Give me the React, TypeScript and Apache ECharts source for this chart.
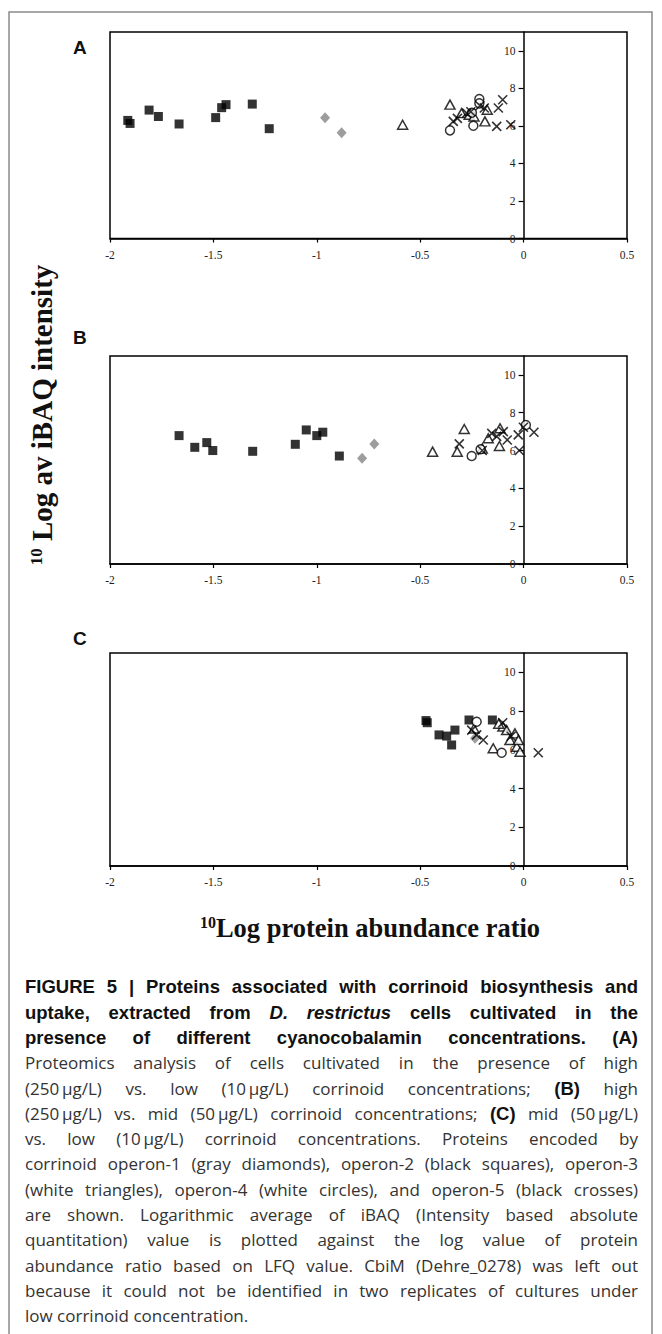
import React, { useEffect, useRef } from "react";
import * as echarts from "echarts";

// ---------- data (x = 10Log protein abundance ratio, y = 10Log av iBAQ intensity) ----------
const panelNames = ["A", "B", "C"];
const operonNames = ["operon-1", "operon-2", "operon-3", "operon-4", "operon-5"];

const xMin = -2;
const xMax = 0.5;
const xInterval = 0.5;
const yMin = 0;
const yMax = 11;
const yInterval = 2;

// Panel A: high vs low
const aOperon1 = [[-0.96, 6.43], [-0.88, 5.63]];
const aOperon2 = [
  [-1.914, 6.29], [-1.903, 6.13], [-1.811, 6.84], [-1.766, 6.5], [-1.666, 6.1],
  [-1.489, 6.44], [-1.46, 6.97], [-1.439, 7.13], [-1.312, 7.16], [-1.23, 5.85],
];
const aOperon3 = [
  [-0.585, 6.06], [-0.356, 7.13], [-0.3, 6.68], [-0.263, 6.59], [-0.24, 6.5],
  [-0.187, 6.24], [-0.176, 6.86],
];
const aOperon4 = [[-0.356, 5.76], [-0.243, 6.01], [-0.214, 7.43], [-0.214, 7.2], [-0.25, 6.7]];
const aOperon5 = [
  [-0.34, 6.24], [-0.32, 6.4], [-0.275, 6.68], [-0.255, 6.75], [-0.211, 7.07],
  [-0.19, 6.95], [-0.13, 5.97], [-0.122, 6.95], [-0.101, 7.39], [-0.062, 6.06],
];

// Panel B: high vs mid
const bOperon1 = [[-0.781, 5.59], [-0.722, 6.35]];
const bOperon2 = [
  [-1.666, 6.79], [-1.59, 6.17], [-1.532, 6.42], [-1.503, 6.0], [-1.31, 5.96],
  [-1.104, 6.33], [-1.051, 7.09], [-1.0, 6.79], [-0.971, 6.97], [-0.891, 5.71],
];
const bOperon3 = [
  [-0.44, 5.94], [-0.287, 7.14], [-0.321, 5.94], [-0.171, 6.65], [-0.114, 7.18],
  [-0.117, 6.24], [-0.2, 6.1],
];
const bOperon4 = [[-0.251, 5.71], [-0.208, 6.07], [0.011, 7.35]];
const bOperon5 = [
  [-0.311, 6.35], [-0.2, 6.0], [-0.154, 6.91], [-0.098, 7.0], [-0.079, 6.56],
  [-0.021, 6.0], [-0.026, 6.83], [-0.001, 7.23], [0.05, 6.97], [-0.13, 6.75],
];

// Panel C: mid vs low
const cOperon1 = [[-0.235, 6.6]];
const cOperon2 = [
  [-0.472, 7.51], [-0.466, 7.4], [-0.409, 6.77], [-0.372, 6.71], [-0.332, 7.02],
  [-0.348, 6.25], [-0.264, 7.54], [-0.151, 7.54],
];
const cOperon3 = [
  [-0.147, 6.08], [-0.1, 7.2], [-0.082, 7.02], [-0.066, 6.51], [-0.042, 6.85],
  [-0.033, 6.16], [-0.017, 5.9], [-0.025, 6.51], [-0.24, 7.1], [-0.12, 7.35],
];
const cOperon4 = [[-0.227, 7.45], [-0.106, 5.85]];
const cOperon5 = [
  [-0.251, 7.02], [-0.227, 6.77], [-0.195, 6.51], [-0.101, 7.4], [0.071, 5.85],
  [-0.06, 6.7],
];

const panelData = [
  [aOperon1, aOperon2, aOperon3, aOperon4, aOperon5],
  [bOperon1, bOperon2, bOperon3, bOperon4, bOperon5],
  [cOperon1, cOperon2, cOperon3, cOperon4, cOperon5],
];

const yTitle = "Log av iBAQ intensity";
const xTitle = "Log protein abundance ratio";
const superscript = "10";

type Seg = { t: string; b?: boolean; i?: boolean };
const captionLines: Seg[][] = [
  [{ t: "FIGURE 5 | Proteins associated with corrinoid biosynthesis and", b: true }],
  [
    { t: "uptake, extracted from ", b: true },
    { t: "D. restrictus", b: true, i: true },
    { t: " cells cultivated in the", b: true },
  ],
  [{ t: "presence of different cyanocobalamin concentrations. (A)", b: true }],
  [{ t: "Proteomics analysis of cells cultivated in the presence of high" }],
  [
    { t: "(250\u2009\u03bcg/L) vs. low (10\u2009\u03bcg/L) corrinoid concentrations; " },
    { t: "(B)", b: true },
    { t: " high" },
  ],
  [
    { t: "(250\u2009\u03bcg/L) vs. mid (50\u2009\u03bcg/L) corrinoid concentrations; " },
    { t: "(C)", b: true },
    { t: " mid (50\u2009\u03bcg/L)" },
  ],
  [{ t: "vs. low (10\u2009\u03bcg/L) corrinoid concentrations. Proteins encoded by" }],
  [{ t: "corrinoid operon-1 (gray diamonds), operon-2 (black squares), operon-3" }],
  [{ t: "(white triangles), operon-4 (white circles), and operon-5 (black crosses)" }],
  [{ t: "are shown. Logarithmic average of iBAQ (Intensity based absolute" }],
  [{ t: "quantitation) value is plotted against the log value of protein" }],
  [{ t: "abundance ratio based on LFQ value. CbiM (Dehre_0278) was left out" }],
  [{ t: "because it could not be identified in two replicates of cultures under" }],
  [{ t: "low corrinoid concentration." }],
];

// ---------- styles ----------
const SERIF = '"Liberation Serif", "Times New Roman", serif';
const SANS = '"Liberation Sans", Arial, Helvetica, sans-serif';
const CAPTION_REGULAR = '"Open Sans", "Liberation Sans", Arial, sans-serif';

const grids = [
  { left: 110, width: 517, top: 32, height: 206.5 },
  { left: 110, width: 517, top: 356, height: 208 },
  { left: 110, width: 517, top: 653, height: 213 },
];
const panelLabelY = [47, 337, 638];

const crossPath = "path://M0,0L10,10M10,0L0,10";
const operonStyles = [
  { symbol: "diamond", symbolSize: [10, 11], itemStyle: { color: "#858585" } },
  { symbol: "rect", symbolSize: 9, itemStyle: { color: "#000" } },
  {
    symbol: "triangle",
    symbolSize: [10, 9],
    itemStyle: { color: "#fff", borderColor: "#000", borderWidth: 1.5 },
  },
  {
    symbol: "circle",
    symbolSize: 9,
    itemStyle: { color: "#fff", borderColor: "#000", borderWidth: 1.5 },
  },
  {
    symbol: crossPath,
    symbolSize: 9,
    itemStyle: { color: "#000", borderColor: "#000", borderWidth: 1.6 },
  },
];

function buildOption() {
  const grid = grids.map((g) => ({
    ...g,
    show: true,
    borderColor: "#000",
    borderWidth: 1.5,
    backgroundColor: "transparent",
    containLabel: false,
  }));
  const xAxis = grids.map((_, i) => ({
    type: "value",
    gridIndex: i,
    min: xMin,
    max: xMax,
    interval: xInterval,
    splitLine: { show: false },
    axisLine: { show: true, onZero: false, lineStyle: { color: "#000", width: 1.5 } },
    axisTick: { show: true, length: 4, inside: false, lineStyle: { color: "#000", width: 1.2 } },
    axisLabel: { margin: 10, fontFamily: SERIF, fontSize: 11.5, color: "#222" },
  }));
  // y axis drawn at x = 0: shift it from the grid's left edge by the x-scale position of 0
  const yAxis = grids.map((g, i) => ({
    type: "value",
    gridIndex: i,
    position: "left",
    offset: -((0 - xMin) / (xMax - xMin)) * g.width,
    min: yMin,
    max: yMax,
    interval: yInterval,
    splitLine: { show: false },
    axisLine: { show: true, onZero: false, lineStyle: { color: "#000", width: 1.5 } },
    axisTick: { show: true, length: 5, inside: false, lineStyle: { color: "#000", width: 1.2 } },
    axisLabel: {
      showMaxLabel: false,
      margin: 8,
      fontFamily: SERIF,
      fontSize: 11.5,
      color: "#222",
      formatter: (v: number) => (v > 10 ? "" : String(v)),
    },
  }));
  const series: any[] = [];
  panelData.forEach((ops, pi) => {
    ops.forEach((d, oi) => {
      series.push({
        type: "scatter",
        name: `${panelNames[pi]} ${operonNames[oi]}`,
        xAxisIndex: pi,
        yAxisIndex: pi,
        data: d,
        ...operonStyles[oi],
        z: 2 + oi,
      });
    });
  });

  const graphic: any[] = [
    {
      type: "rect",
      silent: true,
      shape: { x: 9, y: 12, width: 643, height: 1340 },
      style: { fill: "none", stroke: "#8a8a8a", lineWidth: 1.5 },
    },
    ...panelNames.map((n, i) => ({
      type: "text",
      x: 73,
      y: panelLabelY[i],
      style: {
        text: n,
        font: `bold 19px ${SANS}`,
        fill: "#111",
        verticalAlign: "middle",
      },
    })),
    {
      type: "text",
      x: 42,
      y: 415,
      rotation: Math.PI / 2,
      style: {
        text: `{s|${superscript}}{m| ${yTitle}}`,
        align: "center",
        verticalAlign: "middle",
        rich: {
          s: { fontFamily: SERIF, fontWeight: "bold", fontSize: 17, verticalAlign: "top", fill: "#111" },
          m: { fontFamily: SERIF, fontWeight: "bold", fontSize: 29, fill: "#111" },
        },
      },
    },
    {
      type: "text",
      x: 370,
      y: 928,
      style: {
        text: `{s|${superscript}}{m|${xTitle}}`,
        align: "center",
        verticalAlign: "middle",
        rich: {
          s: { fontFamily: SERIF, fontWeight: "bold", fontSize: 16, verticalAlign: "top", fill: "#111" },
          m: { fontFamily: SERIF, fontWeight: "bold", fontSize: 26.5, fill: "#111" },
        },
      },
    },
  ];

  return { animation: false, backgroundColor: "#fff", grid, xAxis, yAxis, series, graphic };
}

export default function App() {
  const ref = useRef<HTMLDivElement>(null);
  useEffect(() => {
    if (!ref.current) return;
    const chart = echarts.init(ref.current, undefined, { renderer: "svg" });
    chart.setOption(buildOption() as any);
    return () => chart.dispose();
  }, []);

  const lineH = 25.3;
  return (
    <div style={{ position: "absolute", left: 0, top: 0, width: 662, height: 1334, overflow: "hidden", background: "#fff" }}>
      <div ref={ref} style={{ position: "absolute", left: 0, top: 0, width: 662, height: 1334 }} />
      <div
        style={{
          position: "absolute",
          left: 25,
          top: 987 - lineH / 2,
          width: 613,
          fontFamily: CAPTION_REGULAR,
          fontSize: 17,
          color: "#333",
        }}
      >
        {captionLines.map((segs, li) => (
          <div
            key={li}
            style={{
              height: lineH,
              lineHeight: `${lineH}px`,
              whiteSpace: "nowrap",
              textAlign: "justify",
              textAlignLast: li === captionLines.length - 1 ? "left" : "justify",
            } as any}
          >
            {segs.map((s, si) => (
              <span
                key={si}
                style={{
                  fontFamily: s.b ? SANS : CAPTION_REGULAR,
                  fontSize: s.b ? 18.5 : 17,
                  fontWeight: s.b ? "bold" : "normal",
                  fontStyle: s.i ? "italic" : "normal",
                  color: s.b ? "#111" : "#333",
                }}
              >
                {s.t}
              </span>
            ))}
          </div>
        ))}
      </div>
    </div>
  );
}
